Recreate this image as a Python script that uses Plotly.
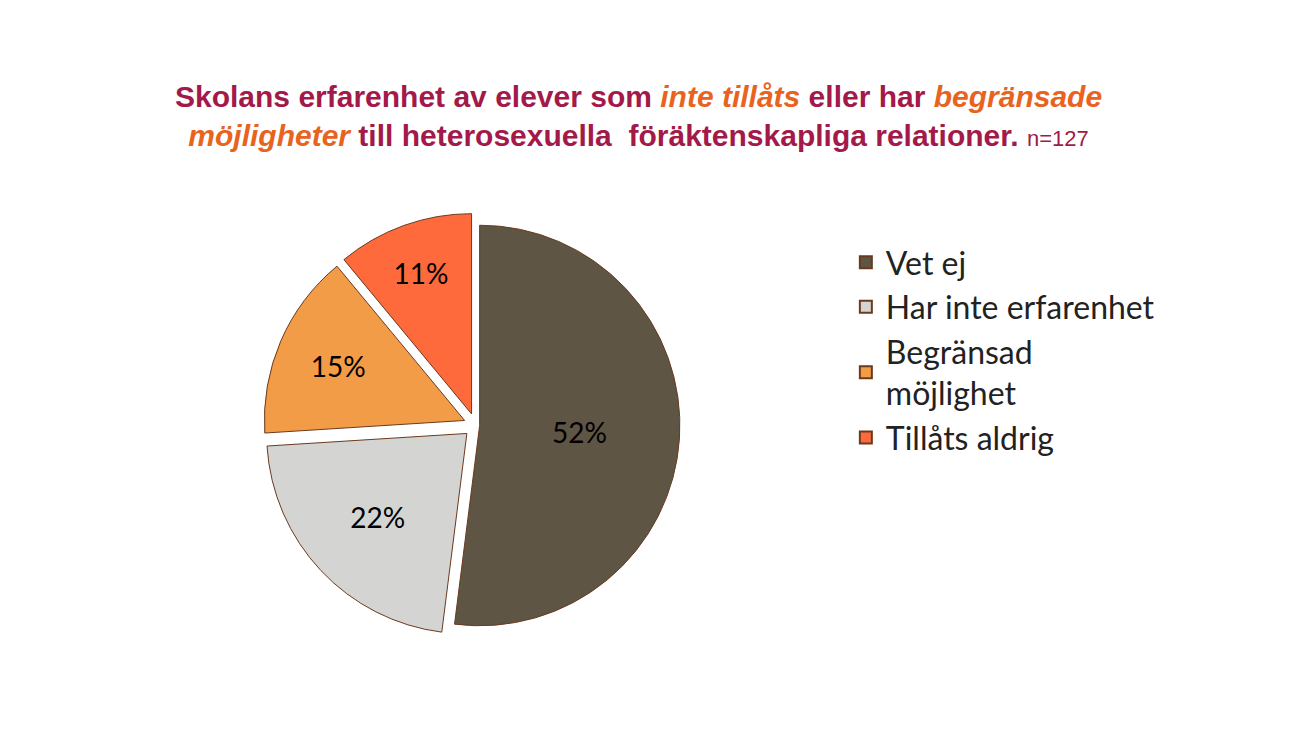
import plotly.graph_objects as go

labels = ["Vet ej", "Har inte erfarenhet", "Begränsad<br>möjlighet", "Tillåts aldrig"]
values = [52, 22, 15, 11]
colors = ["#5E5545", "#D4D4D2", "#F39C48", "#FF6A3D"]
pulls = [0.02, 0.06, 0.06, 0.06]

fig = go.Figure(go.Pie(
    labels=labels, values=values, sort=False, direction="clockwise", rotation=0,
    marker=dict(colors=colors, line=dict(color="#6b3a1e", width=1)),
    pull=pulls, textinfo="percent", texttemplate="%{value}%",
    textposition="inside", insidetextorientation="horizontal",
    textfont=dict(family="Lato, DejaVu Sans", size=28, color="black"),
    domain=dict(x=[0.1, 0.62], y=[0.14, 0.72]),
))

title = ("<b>Skolans erfarenhet av elever som <i><span style='color:#E8641E'>inte tillåts</span></i> eller har "
         "<i><span style='color:#E8641E'>begränsade</span></i></b><br>"
         "<b><i><span style='color:#E8641E'>möjligheter</span></i> till heterosexuella  föräktenskapliga relationer.</b>"
         " <span style='font-size:22px'>n=127</span>")
fig.add_annotation(text=title, x=0.485, y=0.905, xref="paper", yref="paper", showarrow=False,
                   font=dict(family="Liberation Sans, Arial", size=30, color="#A3194A"), align="center")

fig.update_layout(
    width=1299, height=732, paper_bgcolor="white", plot_bgcolor="white",
    margin=dict(l=0, r=0, t=0, b=0),
    legend=dict(x=0.645, y=0.69, xanchor="left", yanchor="top",
                font=dict(family="Lato, DejaVu Sans", size=32, color="#222"),
                itemsizing="constant", itemwidth=30),
)
fig.write_html("out.html")
